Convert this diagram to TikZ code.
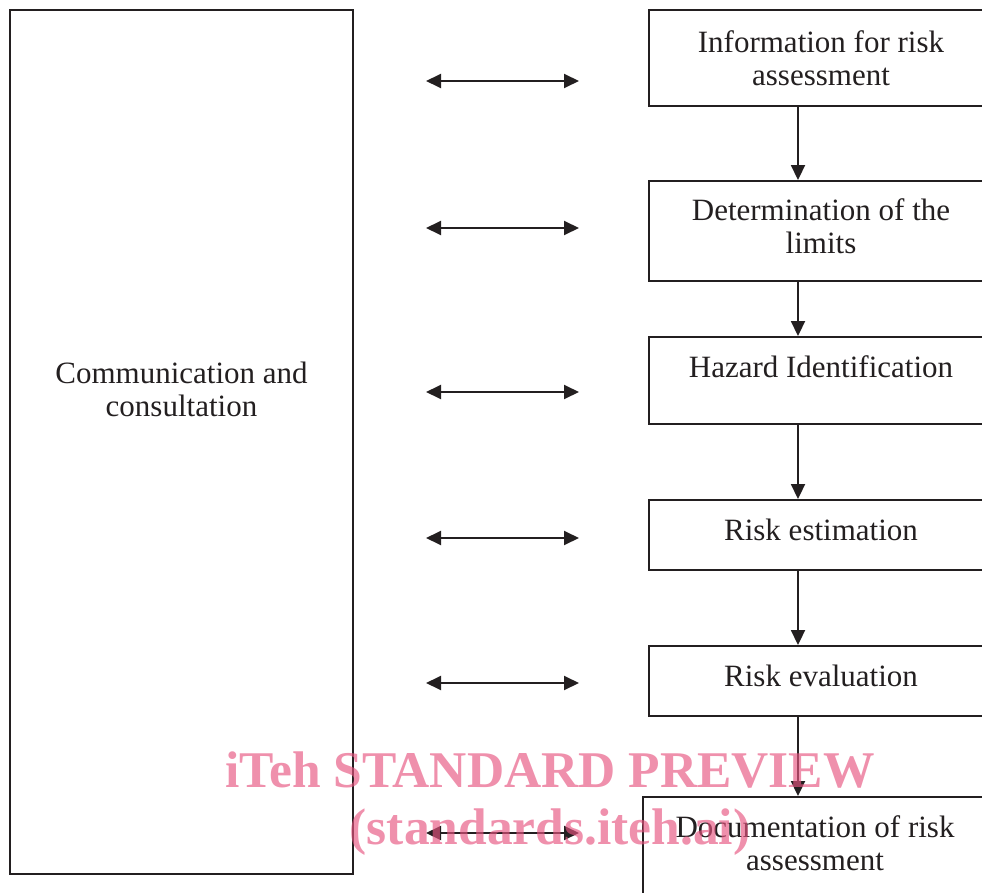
\documentclass[tikz,border=0pt]{standalone}
\usepackage{fontspec}
\setmainfont{Liberation Serif}
\usetikzlibrary{arrows.meta}

\begin{document}
\begin{tikzpicture}[x=1pt, y=-1pt, line width=1.9pt, color={rgb,255:red,35;green,31;blue,32},
    >={Triangle[length=15pt, width=14pt]},
    stage/.style={draw, minimum width=344pt, align=center, inner sep=0pt,
      font=\fontsize{31}{33}\selectfont}]
    \useasboundingbox (0, 0) rectangle (982, 893);
    \clip (0, 0) rectangle (982, 893);

    \node[stage, minimum width=343pt, minimum height=864pt, text depth=106pt] (comm) at (181.5, 442) {Communication and\\consultation};

    \node[stage, minimum height=96pt] (info) at (821, 58) {Information for risk\\assessment};
    \node[stage, minimum height=100pt, text depth=10pt] (limits) at (821, 231) {Determination of the\\limits};
    \node[stage, minimum height=87pt, text depth=28pt] (hazard) at (821, 380.5) {Hazard Identification};
    \node[stage, minimum height=70pt, text depth=11pt] (estim) at (821, 535) {Risk estimation};
    \node[stage, minimum height=70pt, text depth=11pt] (evalu) at (821, 681) {Risk evaluation};
    \node[stage, minimum height=103pt, text depth=11pt] (docu) at (815, 848.5) {Documentation of risk\\assessment};

    \coordinate (spine) at (798, 0);
    \draw[->] (info.south -| spine) -- (limits.north -| spine);
    \draw[->] (limits.south -| spine) -- (hazard.north -| spine);
    \draw[->] (hazard.south -| spine) -- (estim.north -| spine);
    \draw[->] (estim.south -| spine) -- (evalu.north -| spine);
    \draw[->] (evalu.south -| spine) -- (docu.north -| spine);

    % two-way links
    \coordinate (l1) at (426, 81);  \coordinate (r1) at (579, 81);
    \coordinate (l2) at (426, 228); \coordinate (r2) at (579, 228);
    \coordinate (l3) at (426, 392); \coordinate (r3) at (579, 392);
    \coordinate (l4) at (426, 538); \coordinate (r4) at (579, 538);
    \coordinate (l5) at (426, 683); \coordinate (r5) at (579, 683);
    \coordinate (l6) at (426, 833); \coordinate (r6) at (579, 833);
    \draw[<->] (l1) -- (r1);
    \draw[<->] (l2) -- (r2);
    \draw[<->] (l3) -- (r3);
    \draw[<->] (l4) -- (r4);
    \draw[<->] (l5) -- (r5);
    \draw[<->] (l6) -- (r6);

    \definecolor{wmpink}{RGB}{231,84,128}
    \node[text=wmpink, text opacity=0.65, align=center, inner sep=0pt,
      font=\fontsize{51.5}{57}\selectfont\bfseries] (mark) at (550, 804) {iTeh STANDARD PREVIEW\\(standards.iteh.ai)};
\end{tikzpicture}
\end{document}
